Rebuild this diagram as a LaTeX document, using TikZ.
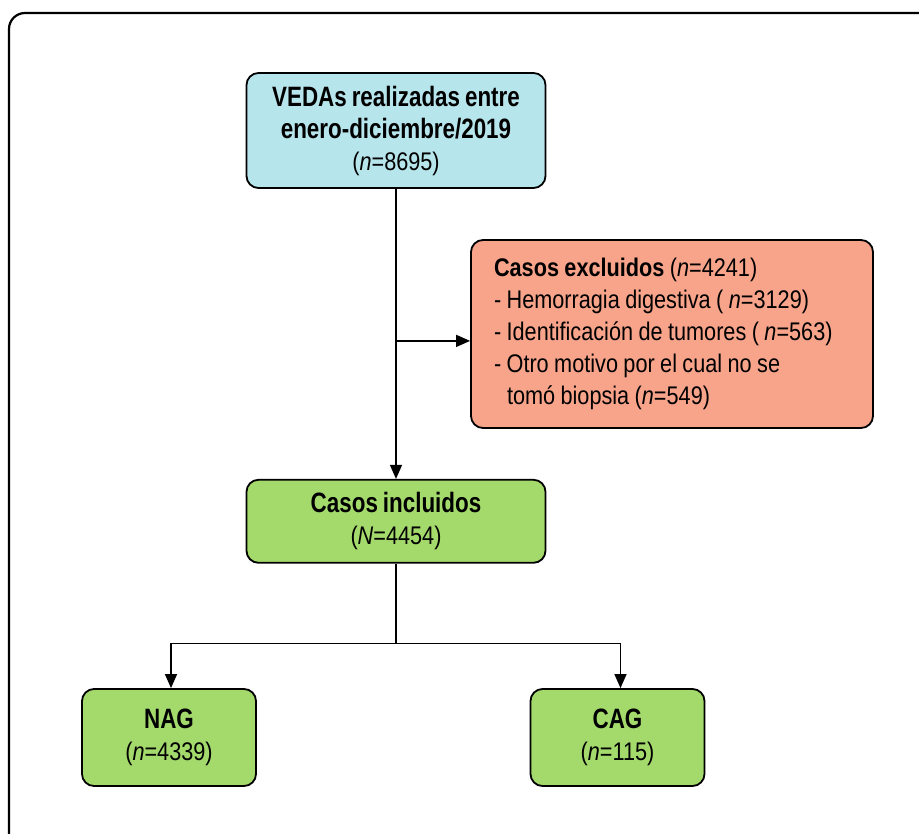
\documentclass[tikz,border=0pt]{standalone}
\usepackage{fontspec}
\setmainfont{Liberation Sans}[FakeStretch=0.85, WordSpace=0.9]
\newfontfamily\headfont{Liberation Sans}[FakeStretch=0.8, WordSpace=0.8]
\usetikzlibrary{arrows.meta, positioning, calc}

\definecolor{vedacyan}{RGB}{183,229,236}
\definecolor{exclsalmon}{RGB}{247,164,139}
\definecolor{inclgreen}{RGB}{164,218,108}

\newcommand{\headtxt}[1]{{\headfont\bfseries\fontsize{28}{32}\selectfont #1}}

\begin{document}
\begin{tikzpicture}[
    x=1pt, y=1pt,
    every node/.style={font=\fontsize{25.5}{32}\selectfont},
    box/.style={
        rectangle,
        rounded corners=12pt,
        draw=black,
        line width=1.8pt,
        align=center,
        inner sep=4pt
    },
    topbox/.style={
        box,
        fill=vedacyan,
        minimum width=299pt,
        minimum height=115pt
    },
    exclbox/.style={
        box,
        fill=exclsalmon,
        align=left,
        text width=356pt,
        inner xsep=23pt,
        minimum height=188pt
    },
    inclbox/.style={
        box,
        fill=inclgreen,
        minimum width=299pt,
        minimum height=83pt
    },
    groupbox/.style={
        box,
        fill=inclgreen,
        minimum width=174pt,
        minimum height=97pt
    },
    arrow/.style={
        line width=1.4pt,
        -{Triangle[length=14pt, width=12pt]}
    },
    frame/.style={
        draw=black,
        line width=2.2pt,
        rounded corners=16pt
    }
]

\useasboundingbox (0,0) rectangle (919,-834);
\clip (0,0) rectangle (919,-834);

% Outer frame (cut by the page)
\draw[frame] (9,-13) rectangle (990,-900);

% Main nodes
\node[topbox] (vedas) at (396,-130.5) {
    \headtxt{VEDAs realizadas entre} \\
    \headtxt{enero-diciembre/2019} \\
    (\textit{n}=8695)
};

\node[exclbox] (excl) at (672,-334) {\spaceskip=0pt\xspaceskip=0pt
    \textbf{Casos excluidos} (\textit{n}=4241) \\
    - Hemorragia digestiva ( \textit{n}=3129) \\
    - Identificación de tumores ( \textit{n}=563) \\
    - Otro motivo por el cual no se \\
    \hspace*{13pt}tomó biopsia (\textit{n}=549)
};

\node[inclbox, below=290pt of vedas] (incl) {
    \headtxt{Casos incluidos} \\
    (\textit{N}=4454)
};

\node[groupbox] (nag) at (169,-737.5) {
    \headtxt{NAG} \\
    (\textit{n}=4339)
};
\node[groupbox] (cag) at (617.5,-737.5) {
    \headtxt{CAG} \\
    (\textit{n}=115)
};

% Split points
\coordinate (exclsplit) at ($(vedas.south)+(0,-152)$);
\coordinate (fork) at ($(incl.south)+(0,-80)$);

% Flow arrows
\draw[arrow] (vedas.south) -- (incl.north);
\draw[arrow] (exclsplit) -- (exclsplit -| excl.west);
\draw[line width=1.4pt] (incl.south) -- (fork);
\draw[arrow] (fork) -| ([xshift=2pt]nag.north);
\draw[arrow] (fork) -| ([xshift=3pt]cag.north);

\end{tikzpicture}
\end{document}
